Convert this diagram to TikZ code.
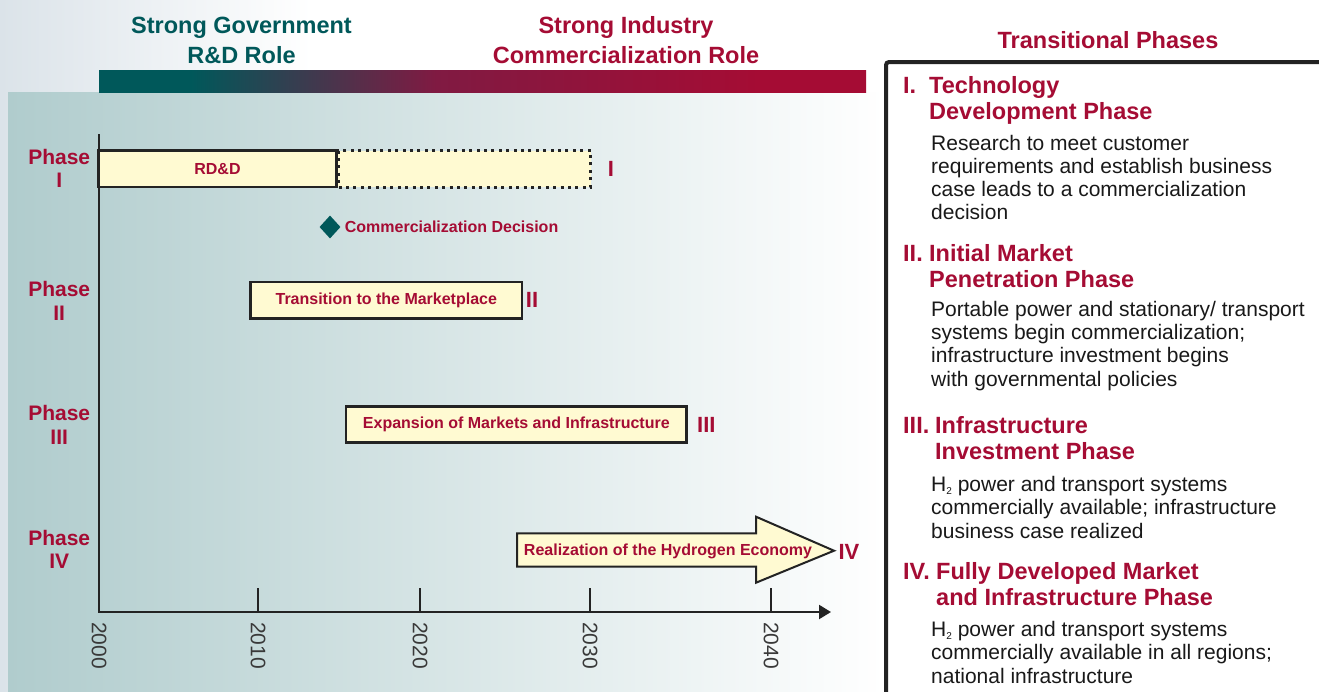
\documentclass[tikz,border=0pt]{standalone}
\usepackage{fontspec}
\setmainfont{Liberation Sans}
\usetikzlibrary{arrows.meta,shapes.geometric,positioning}

\definecolor{govteal}{RGB}{0,88,90}
\definecolor{indred}{RGB}{165,12,52}
\definecolor{rolemid}{RGB}{128,26,66}
\definecolor{barfill}{RGB}{255,250,210}
\definecolor{panelteal}{RGB}{176,204,205}
\definecolor{pagegray}{RGB}{219,227,233}
\definecolor{inkgray}{RGB}{35,35,35}

% teal -> crimson band under the two role titles
\pgfdeclarehorizontalshading{rolebar}{100bp}{color(0bp)=(govteal); color(31bp)=(govteal);
    color(47bp)=(rolemid); color(68bp)=(indred); color(100bp)=(indred)}

\newcommand{\Htwo}{H\raisebox{-3pt}{\fontsize{10}{10}\selectfont 2}}

\begin{document}
\begin{tikzpicture}[x=1pt, y=-1pt,
    heading/.style={font=\fontsize{23.5}{26}\selectfont\bfseries, inner sep=0pt, anchor=base},
    phasebox/.style={draw=inkgray, line width=2.6pt, fill=barfill, inner sep=0pt,
        minimum height=36.5pt, text=indred, font=\fontsize{16}{18}\selectfont\bfseries},
    bartext/.style={text=indred, font=\fontsize{16}{18}\selectfont\bfseries, inner sep=0pt},
    phaselabel/.style={text=indred, font=\fontsize{21}{24}\selectfont\bfseries, inner sep=0pt, anchor=base},
    numeral/.style={text=indred, font=\fontsize{22}{24}\selectfont\bfseries, inner sep=0pt, anchor=base},
    redhead/.style={text=indred, font=\fontsize{23.5}{26}\selectfont\bfseries, inner sep=0pt, anchor=base west},
    bodytext/.style={text=black!90, font=\fontsize{21}{23}\selectfont, inner sep=0pt, anchor=base west},
    yearlabel/.style={text=inkgray!90, font=\fontsize{21}{23}\selectfont, inner sep=0pt, rotate=-90, anchor=west},
    axisline/.style={draw=inkgray, line width=2.2pt}]

    \useasboundingbox (0,0) rectangle (1319,691);
    % Backgrounds
    \fill[white] (0,0) rectangle (1319,691);
    \shade[left color=pagegray, right color=white] (0,0) rectangle (312,691);
    \shade[left color=panelteal, right color=white] (8,92) rectangle (884,691);
    \shade[shading=rolebar] (99,70) rectangle (866,92);

    % Role titles
    \node[heading, text=govteal] (govA) at (241.5,33.3) {Strong Government};
    \node[heading, text=govteal] (govB) at (241.5,63.3) {R\&D Role};
    \node[heading, text=indred] (indA) at (626,33.3) {Strong Industry};
    \node[heading, text=indred] (indB) at (626,63.3) {Commercialization Role};

    % Axes
    \coordinate (ytop) at (99,134);
    \coordinate (origin) at (99,612);
    \coordinate (xend) at (831,612);
    \draw[axisline, -{Triangle[length=12pt,width=14pt]}] (ytop) -- (origin) -- (xend);
    \foreach \yr/\xpos in {2000/99, 2010/258, 2020/420, 2030/590, 2040/771} {
        \ifnum\yr>2000
            \draw[axisline] (\xpos,588) -- (\xpos,612);
        \fi
        \node[yearlabel] (yr\yr) at (\xpos,622) {\yr};
    }

    % Phase names on the left
    \foreach \rom/\ypos in {I/164.4, II/296.7, III/420.7, IV/545} {
        \node[phaselabel] (phase\rom) at (59.2,\ypos) {Phase};
        \node[phaselabel] (phasenum\rom) at (59.2,\ypos+23.5) {\rom};
    }

    % Phase I
    \draw[draw=inkgray, fill=barfill, line width=3pt, dash pattern=on 3pt off 4.4pt]
        (338,150.6) rectangle (590.7,187);
    \node[phasebox, minimum width=238.4pt] (rdd) at (217.5,168.8) {RD\&D};
    \node[numeral] (numI) at (611,176.7) {I};
    \node[diamond, fill=govteal, inner sep=0pt, minimum width=21pt, minimum height=23pt] (decision) at (330,227) {};
    \node[bartext, right=4pt of decision] (decisionlabel) {Commercialization Decision};

    % Phase II
    \node[phasebox, minimum width=271.3pt] (market) at (386.3,300.4) {Transition to the Marketplace};
    \node[numeral] (numII) at (532,307.3) {II};

    % Phase III
    \node[phasebox, minimum width=340.7pt] (expansion) at (516.3,424.5) {Expansion of Markets and Infrastructure};
    \node[numeral] (numIII) at (706.4,432.7) {III};

    % Phase IV
    \draw[draw=inkgray, fill=barfill, line width=2pt, line join=miter]
        (517,533.3) -- (756,533.3) -- (756,516.7) -- (834,550.7) -- (756,582.7) -- (756,566.7) -- (517,566.7) -- cycle;
    \node[bartext] (economy) at (668,551) {Realization of the Hydrogen Economy};
    \node[numeral] (numIV) at (849,559.3) {IV};

    % Right panel
    \draw[inkgray, line width=4pt, rounded corners=3pt] (886,720) -- (886,62) -- (1340,62);
    \node[heading, text=indred] (transtitle) at (1108,48.3) {Transitional Phases};

    \node[redhead] (headI) at (903,93.3) {I.};
    \node[redhead] (headIa) at (929,93.3) {Technology};
    \node[redhead] (headIb) at (929,119.3) {Development Phase};
    \foreach \txt [count=\i from 0] in {Research to meet customer, requirements and establish business,
            case leads to a commercialization, decision}
        \node[bodytext] (bodyI-\i) at (931,150+23.33*\i) {\txt};

    \node[redhead] (headII) at (903,261.7) {II.};
    \node[redhead] (headIIa) at (929,261.7) {Initial Market};
    \node[redhead] (headIIb) at (929,287.7) {Penetration Phase};
    \foreach \txt [count=\i from 0] in {{Portable power and stationary/ transport}, systems begin commercialization;,
            infrastructure investment begins, with governmental policies}
        \node[bodytext] (bodyII-\i) at (931,316.7+23.1*\i) {\txt};

    \node[redhead] (headIII) at (903,433.3) {III.};
    \node[redhead] (headIIIa) at (935,433.3) {Infrastructure};
    \node[redhead] (headIIIb) at (935,459.3) {Investment Phase};
    \foreach \txt [count=\i from 0] in {\Htwo{} power and transport systems, commercially available; infrastructure,
            business case realized}
        \node[bodytext] (bodyIII-\i) at (931,491+23.5*\i) {\txt};

    \node[redhead] (headIV) at (903,579.3) {IV.};
    \node[redhead] (headIVa) at (936,579.3) {Fully Developed Market};
    \node[redhead] (headIVb) at (936,605) {and Infrastructure Phase};
    \foreach \txt [count=\i from 0] in {\Htwo{} power and transport systems, commercially available in all regions;,
            national infrastructure}
        \node[bodytext] (bodyIV-\i) at (931,636+23.5*\i) {\txt};
\end{tikzpicture}
\end{document}
